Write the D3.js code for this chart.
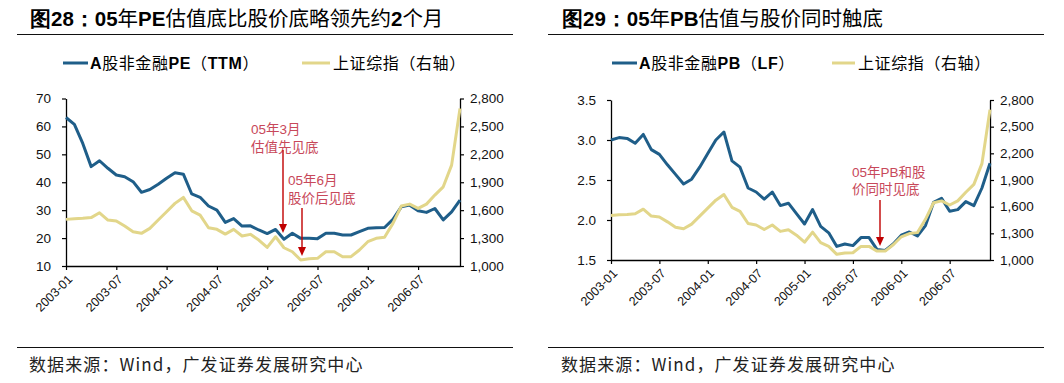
<!DOCTYPE html>
<html>
<head>
<meta charset="utf-8">
<script src="https://cdn.jsdelivr.net/npm/d3@7/dist/d3.min.js"></script>
<style>
  html, body { margin: 0; padding: 0; background: #fff; }
  svg { display: block; }
  text { font-family: "Liberation Sans", Arial, "Noto Sans CJK SC", sans-serif; }
</style>
</head>
<body>
<svg id="chart" width="1064" height="383"></svg>
<script>
// ---------- data ----------
const months = [
  "2003-01","2003-02","2003-03","2003-04","2003-05","2003-06","2003-07","2003-08","2003-09","2003-10","2003-11","2003-12",
  "2004-01","2004-02","2004-03","2004-04","2004-05","2004-06","2004-07","2004-08","2004-09","2004-10","2004-11","2004-12",
  "2005-01","2005-02","2005-03","2005-04","2005-05","2005-06","2005-07","2005-08","2005-09","2005-10","2005-11","2005-12",
  "2006-01","2006-02","2006-03","2006-04","2006-05","2006-06","2006-07","2006-08","2006-09","2006-10","2006-11","2006-12"
];
const xTickLabels = ["2003-01","2003-07","2004-01","2004-07","2005-01","2005-07","2006-01","2006-07"];

// A股非金融PE（TTM）
const peValues = [63.2, 60.7, 53.9, 45.6, 47.7, 45.0, 42.6, 42.0, 40.2, 36.4, 37.4, 39.3,
                  41.4, 43.4, 42.9, 35.8, 34.6, 31.5, 30.0, 25.6, 27.0, 24.3, 24.4, 22.9,
                  21.6, 23.1, 19.6, 21.7, 19.9, 19.9, 19.8, 21.7, 21.7, 21.1, 21.1, 22.3,
                  23.5, 23.7, 23.8, 26.7, 31.2, 31.8, 29.8, 29.2, 30.6, 26.5, 29.4, 33.6];
// A股非金融PB（LF）
const pbValues = [3.00, 3.03, 3.02, 2.96, 3.07, 2.88, 2.82, 2.69, 2.57, 2.45, 2.51, 2.66,
                  2.83, 3.00, 3.10, 2.74, 2.66, 2.40, 2.35, 2.26, 2.35, 2.18, 2.21, 2.08,
                  1.95, 2.13, 1.92, 1.84, 1.67, 1.70, 1.68, 1.78, 1.78, 1.63, 1.62, 1.70,
                  1.81, 1.85, 1.80, 1.93, 2.22, 2.27, 2.11, 2.13, 2.23, 2.18, 2.40, 2.71];
// 上证综指（右轴）
const sseValues = [1501, 1508, 1512, 1520, 1572, 1494, 1483, 1429, 1368, 1351, 1404, 1494,
                   1583, 1673, 1737, 1593, 1547, 1411, 1394, 1343, 1394, 1322, 1340, 1279,
                   1200, 1314, 1196, 1153, 1064, 1078, 1082, 1153, 1153, 1100, 1100, 1172,
                   1261, 1297, 1308, 1458, 1644, 1665, 1619, 1665, 1762, 1851, 2084, 2692];

const peTicks = [10, 20, 30, 40, 50, 60, 70];
const pbTicks = [1.5, 2.0, 2.5, 3.0, 3.5];
const sseTicks = [1000, 1300, 1600, 1900, 2200, 2500, 2800];

// ---------- style ----------
const BLUE = "#1f5e89";
const YELLOW = "#e2d68a";
const ANN_TEXT = "#c8485a";
const ANN_ARROW = "#c00000";

const svg = d3.select("#chart");
svg.append("rect").attr("width", 1064).attr("height", 383).attr("fill", "#fff");

function richText(g, x, y, parts, size, anchor) {
  const t = g.append("text").attr("x", x).attr("y", y).attr("font-size", size)
    .attr("fill", "#000");
  if (anchor) t.attr("text-anchor", anchor);
  parts.forEach(p => {
    t.append("tspan")
      .attr("font-family", p.b ? "'Liberation Sans', Arial, sans-serif" : "'Noto Sans CJK SC', sans-serif")
      .attr("font-weight", p.b ? "bold" : "normal")
      .text(p.t);
  });
  return t;
}

function drawChart(cfg) {
  const g = svg.append("g");

  // title
  richText(g, cfg.titleX, 26, cfg.title, cfg.titleSize);
  g.append("line").attr("x1", cfg.ruleX0).attr("x2", cfg.ruleX1)
    .attr("y1", 34.5).attr("y2", 34.5).attr("stroke", "#111").attr("stroke-width", 1.2);

  // legend
  cfg.legend.forEach(l => {
    g.append("line").attr("x1", l.x0).attr("x2", l.x1).attr("y1", 63).attr("y2", 63)
      .attr("stroke", l.color).attr("stroke-width", 3);
    richText(g, l.tx, 69, l.parts, 16).attr("letter-spacing", 0.6);
  });

  const x = d3.scalePoint().domain(months).range([cfg.x0, cfg.x1]);
  const yL = d3.scaleLinear().domain(cfg.leftDomain).range([cfg.yBottom, cfg.yTop]);
  const yR = d3.scaleLinear().domain([1000, 2800]).range([cfg.yBottom, cfg.yTop]);

  // axes
  const axL = g.append("g").attr("transform", `translate(${cfg.x0},0)`)
    .call(d3.axisLeft(yL).tickValues(cfg.leftTicks).tickSize(4).tickSizeOuter(0).tickPadding(cfg.leftPad)
      .tickFormat(cfg.leftFmt));
  const axR = g.append("g").attr("transform", `translate(${cfg.x1},0)`)
    .call(d3.axisRight(yR).tickValues(sseTicks).tickSize(4).tickSizeOuter(0).tickPadding(6)
      .tickFormat(d3.format(",")));
  const axB = g.append("g").attr("transform", `translate(0,${cfg.yBottom})`)
    .call(d3.axisBottom(x).tickValues(xTickLabels).tickSize(4).tickSizeOuter(0));
  axB.selectAll(".tick text").remove();
  [axL, axR, axB].forEach(a => {
    a.select(".domain").attr("stroke", "#000").attr("stroke-width", 1.3);
    a.selectAll(".tick line").attr("stroke", "#000").attr("stroke-width", 1.2);
    a.selectAll(".tick text").attr("font-size", 13.5).attr("fill", "#111")
      .attr("font-family", "'Liberation Sans', Arial, sans-serif");
  });
  // rotated x labels
  g.selectAll(".xlab").data(xTickLabels).enter().append("text")
    .attr("class", "xlab")
    .attr("transform", d => `translate(${x(d) + 4},${cfg.yBottom + 11}) rotate(-45)`)
    .attr("text-anchor", "end").attr("dy", "0.35em")
    .attr("font-size", 12.5).attr("fill", "#111")
    .attr("font-family", "'Liberation Sans', Arial, sans-serif")
    .text(d => d);

  // lines
  const lineL = d3.line().x((d, i) => x(months[i])).y(d => yL(d));
  const lineR = d3.line().x((d, i) => x(months[i])).y(d => yR(d));
  g.append("path").datum(cfg.leftValues).attr("d", lineL)
    .attr("fill", "none").attr("stroke", BLUE).attr("stroke-width", 3)
    .attr("stroke-linejoin", "round");
  g.append("path").datum(sseValues).attr("d", lineR)
    .attr("fill", "none").attr("stroke", YELLOW).attr("stroke-width", 3)
    .attr("stroke-linejoin", "round");

  // annotations
  cfg.notes.forEach(n => {
    n.lines.forEach((s, k) => {
      g.append("text").attr("x", n.tx).attr("y", n.ty + k * n.lh)
        .attr("font-size", 13.5).attr("fill", ANN_TEXT)
        .attr("font-family", "'Noto Sans CJK SC', sans-serif")
        .text(s);
    });
    g.append("line").attr("x1", n.ax).attr("x2", n.ax).attr("y1", n.ay0).attr("y2", n.ay1 - 7)
      .attr("stroke", ANN_ARROW).attr("stroke-width", 1.4);
    g.append("path")
      .attr("d", `M${n.ax - 4},${n.ay1 - 9} L${n.ax + 4},${n.ay1 - 9} L${n.ax},${n.ay1} Z`)
      .attr("fill", ANN_ARROW);
  });

  // footer
  g.append("line").attr("x1", cfg.ruleX0).attr("x2", cfg.ruleX1)
    .attr("y1", 347.5).attr("y2", 347.5).attr("stroke", "#111").attr("stroke-width", 1.2);
  richText(g, cfg.footX, 371, [
    {t: "数据来源：", b: false}, {t: "Wind", b: false}, {t: "，广发证券发展研究中心", b: false}
  ], 17).attr("letter-spacing", 1.1).attr("fill", "#222");
}

drawChart({
  title: [{t: "图28：05", b: true}, {t: "年", b: false}, {t: "PE", b: true},
          {t: "估值底比股价底略领先约", b: false}, {t: "2", b: true}, {t: "个月", b: false}],
  titleX: 30, titleSize: 20.5,
  ruleX0: 17, ruleX1: 513,
  footX: 29,
  legend: [
    {x0: 63, x1: 88, tx: 90, color: BLUE,
     parts: [{t: "A", b: true}, {t: "股非金融", b: false}, {t: "PE", b: true}, {t: "（", b: false}, {t: "TTM", b: true}, {t: "）", b: false}]},
    {x0: 302, x1: 330, tx: 333, color: YELLOW,
     parts: [{t: "上证综指（右轴）", b: false}]}
  ],
  x0: 66, x1: 460, yTop: 98.5, yBottom: 266,
  leftDomain: [10, 70], leftTicks: peTicks, leftFmt: d3.format("d"), leftPad: 11,
  leftValues: peValues,
  notes: [
    {lines: ["05年3月", "估值先见底"], tx: 251, ty: 134, lh: 18, ax: 283, ay0: 150, ay1: 233},
    {lines: ["05年6月", "股价后见底"], tx: 288, ty: 185, lh: 18, ax: 302, ay0: 208, ay1: 256}
  ]
});

drawChart({
  title: [{t: "图29：05", b: true}, {t: "年", b: false}, {t: "PB", b: true},
          {t: "估值与股价同时触底", b: false}],
  titleX: 562, titleSize: 20.5,
  ruleX0: 548, ruleX1: 1044,
  footX: 561,
  legend: [
    {x0: 612, x1: 637, tx: 639, color: BLUE,
     parts: [{t: "A", b: true}, {t: "股非金融", b: false}, {t: "PB", b: true}, {t: "（", b: false}, {t: "LF", b: true}, {t: "）", b: false}]},
    {x0: 832, x1: 855, tx: 858, color: YELLOW,
     parts: [{t: "上证综指（右轴）", b: false}]}
  ],
  x0: 611, x1: 990, yTop: 100, yBottom: 260,
  leftDomain: [1.5, 3.5], leftTicks: pbTicks, leftFmt: d3.format(".1f"), leftPad: 11,
  leftValues: pbValues,
  notes: [
    {lines: ["05年PB和股", "价同时见底"], tx: 852, ty: 177, lh: 17, ax: 880, ay0: 200, ay1: 246}
  ]
});
</script>
</body>
</html>
